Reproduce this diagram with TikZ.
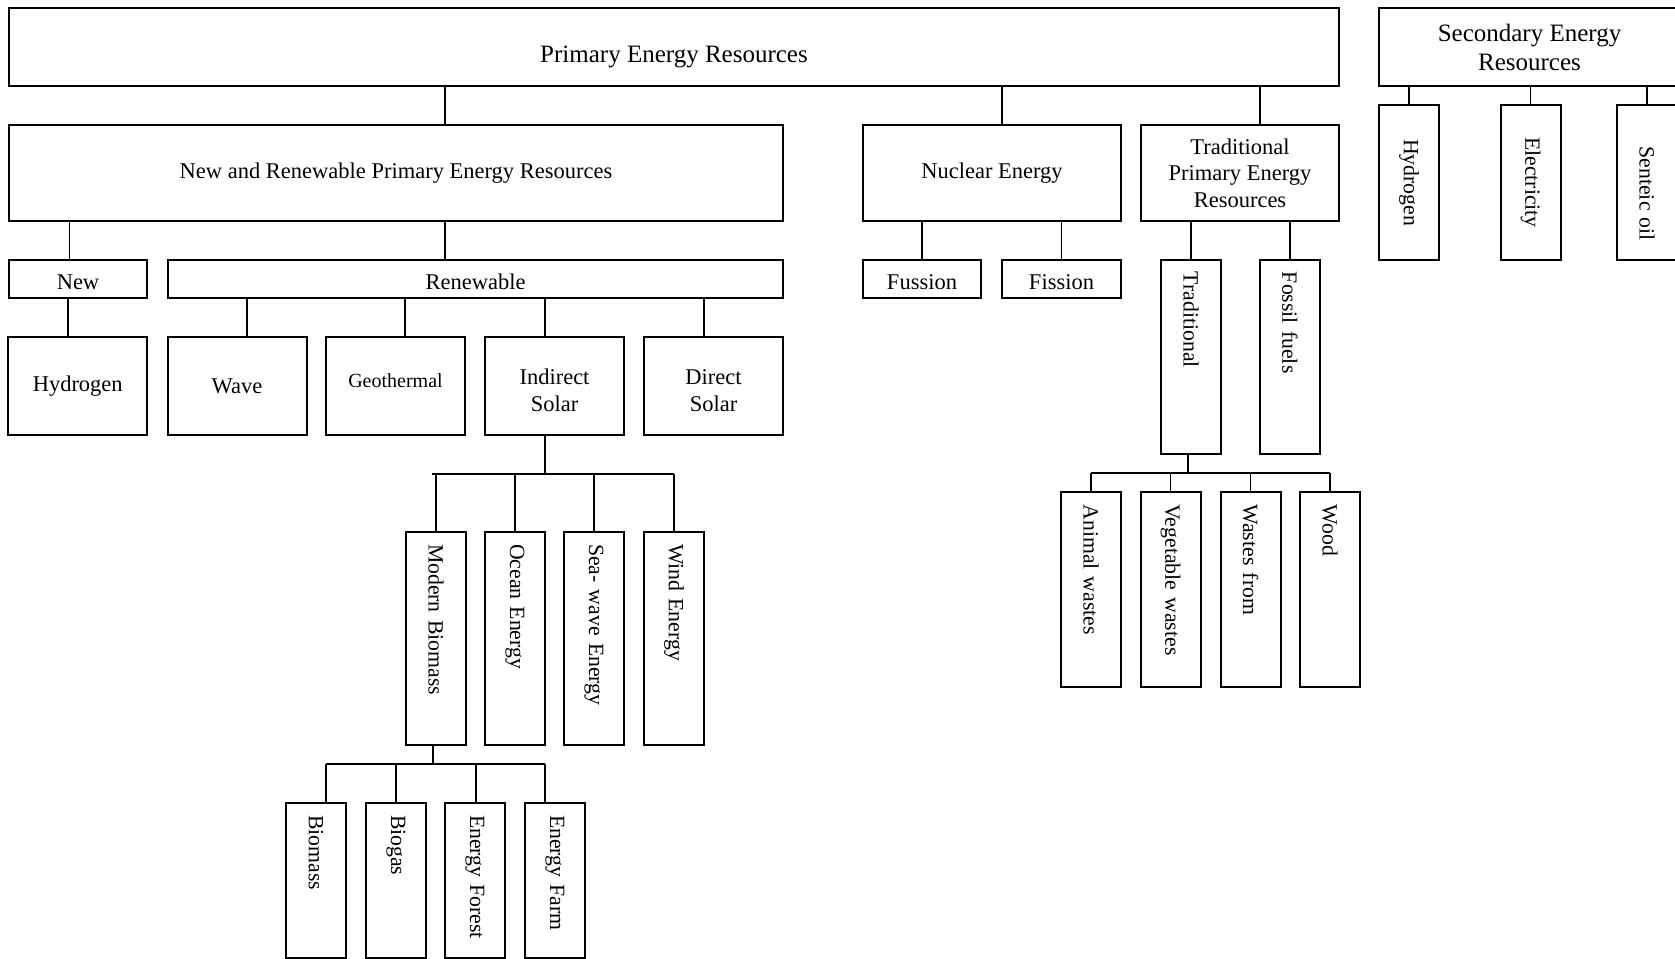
\documentclass[tikz,border=0pt]{standalone}
\usepackage{fontspec}
\setmainfont{Liberation Serif}
\usepackage{tikz}

\begin{document}
\begin{tikzpicture}[x=0.4pt,y=-0.4pt,
    box/.style={draw,line width=0.8pt,inner sep=0pt,
        font=\fontsize{9}{10.6}\selectfont},
    low/.style={text height=#1,text depth=0pt},
    vbox/.style={draw,line width=0.8pt,rotate=-90,inner sep=0pt,inner xsep=4.8pt,
        minimum height=24pt,minimum width=#1,text width={#1-9.6pt},align=left,
        font=\fontsize{8.7}{10}\selectfont},
    link/.style={line width=0.75pt}]
    \useasboundingbox (0,0) rectangle (1675,959);
    \clip (0,0) rectangle (1675,959);

    % Top level
    \node[box,low=12.4pt,minimum width=532.2pt,minimum height=31pt,
        font=\fontsize{10}{12}\selectfont] (prim) at (674,47) {Primary Energy Resources};
    \node[box,align=center,minimum width=120.4pt,minimum height=31pt,
        font=\fontsize{10}{11.6}\selectfont] (sec) at (1529.5,47) {Secondary Energy\\Resources};

    % Second level
    \node[box,minimum width=309.8pt,minimum height=38.4pt] (nre) at (396,173)
        {New and Renewable Primary Energy Resources};
    \node[box,minimum width=103.2pt,minimum height=38.4pt] (nuc) at (992,173) {Nuclear Energy};
    \node[box,align=center,minimum width=79.2pt,minimum height=38.4pt] (trad) at (1240,173)
        {Traditional\\Primary Energy\\Resources};

    % Secondary resources
    \node[vbox=62pt,align=center] (sh) at (1409,182.5) {Hydrogen};
    \node[vbox=62pt,align=center] (sel) at (1530.5,182.5) {Electricity};
    \node[vbox=62pt,align=center] (so) at (1647,182.5) {\hspace*{9pt}Senteic oil};

    % Third level
    \node[box,low=8.8pt,minimum width=55.4pt,minimum height=15.4pt] (new) at (78,279) {New};
    \node[box,low=8.8pt,minimum width=246pt,minimum height=15.4pt] (ren) at (475.5,279) {Renewable};
    \node[box,low=8.8pt,minimum width=47.4pt,minimum height=15.4pt] (fus) at (922,279) {Fussion};
    \node[box,low=8.8pt,minimum width=47.6pt,minimum height=15.4pt] (fis) at (1061.5,279) {Fission};
    \node[vbox=77.6pt] (tr) at (1191,357) {Traditional};
    \node[vbox=77.6pt] (ff) at (1290,357) {Fossil fuels};

    % Fourth level
    \node[box,minimum width=55.4pt,minimum height=39pt] (hyd) at (77.75,386) {Hydrogen};
    \node[box,minimum width=55.6pt,minimum height=39pt] (wave) at (237,386) {Wave};
    \node[box,minimum width=55.6pt,minimum height=39pt,text depth=4pt,
        font=\fontsize{8}{9.6}\selectfont] (geo) at (395.5,386) {Geothermal};
    \node[box,align=center,minimum width=55.6pt,minimum height=39pt] (ind) at (554.5,386)
        {\rule{0pt}{9.8pt}Indirect\\Solar};
    \node[box,align=center,minimum width=55.6pt,minimum height=39pt] (dir) at (713.5,386)
        {\rule{0pt}{9.8pt}Direct\\Solar};

    % Indirect solar branches
    \node[vbox=85.2pt] (mb) at (436,638.5) {Modern Biomass};
    \node[vbox=85.2pt] (oce) at (515,638.5) {Ocean Energy};
    \node[vbox=85.2pt] (sea) at (594,638.5) {Sea- wave Energy};
    \node[vbox=85.2pt] (wind) at (674,638.5) {Wind Energy};

    % Modern biomass branches
    \node[vbox=62pt] (bm) at (316,880.5) {Biomass};
    \node[vbox=62pt] (bg) at (396,880.5) {Biogas};
    \node[vbox=62pt] (ef) at (475,880.5) {Energy Forest};
    \node[vbox=62pt] (efa) at (555,880.5) {Energy Farm};

    % Traditional branches
    \node[vbox=77.6pt] (aw) at (1091,589.5) {Animal wastes};
    \node[vbox=77.6pt] (vw) at (1170.5,589.5) {Vegetable wastes};
    \node[vbox=77.6pt] (wf) at (1250.5,589.5) {Wastes from};
    \node[vbox=77.6pt] (wood) at (1330,589.5) {Wood};

    % Connectors
    \draw[link] (prim.south -| 445,0) -- (nre.north -| 445,0);
    \draw[link] (prim.south -| 1002,0) -- (nuc.north -| 1002,0);
    \draw[link] (prim.south -| 1260,0) -- (trad.north -| 1260,0);
    \foreach \n in {sh,sel,so}
        \draw[link] (sec.south -| \n.west) -- (\n.west);
    \draw[link] (nre.south -| 69.5,0) -- (new.north -| 69.5,0);
    \draw[link] (nre.south -| 445,0) -- (ren.north -| 445,0);
    \foreach \n in {fus,fis}
        \draw[link] (nuc.south -| \n.north) -- (\n.north);
    \foreach \n in {tr,ff}
        \draw[link] (trad.south -| \n.west) -- (\n.west);
    \draw[link] (new.south -| 68,0) -- (hyd.north -| 68,0);
    \foreach \n/\x in {wave/247,geo/405,ind/545,dir/704}
        \draw[link] (ren.south -| \x,0) -- (\n.north -| \x,0);

    \coordinate (indbus) at (545,474);
    \draw[link] (ind.south -| indbus) -- (indbus);
    \draw[link] ([xshift=-1.6pt]indbus -| mb.west) -- (indbus -| wind.west);
    \foreach \n in {mb,oce,sea,wind}
        \draw[link] (indbus -| \n.west) -- (\n.west);

    \coordinate (mbbus) at (433,764);
    \draw[link] (mb.east -| mbbus) -- (mbbus);
    \draw[link] (mbbus -| 326,0) -- (mbbus -| 545,0);
    \foreach \n/\x in {bm/326,bg/396,ef/476,efa/545}
        \draw[link] (mbbus -| \x,0) -- (\n.west -| \x,0);

    \coordinate (trbus) at (1188,473);
    \draw[link] (tr.east -| trbus) -- (trbus);
    \draw[link] (trbus -| aw.west) -- (trbus -| wood.west);
    \foreach \n in {aw,vw,wf,wood}
        \draw[link] (trbus -| \n.west) -- (\n.west);
\end{tikzpicture}
\end{document}
